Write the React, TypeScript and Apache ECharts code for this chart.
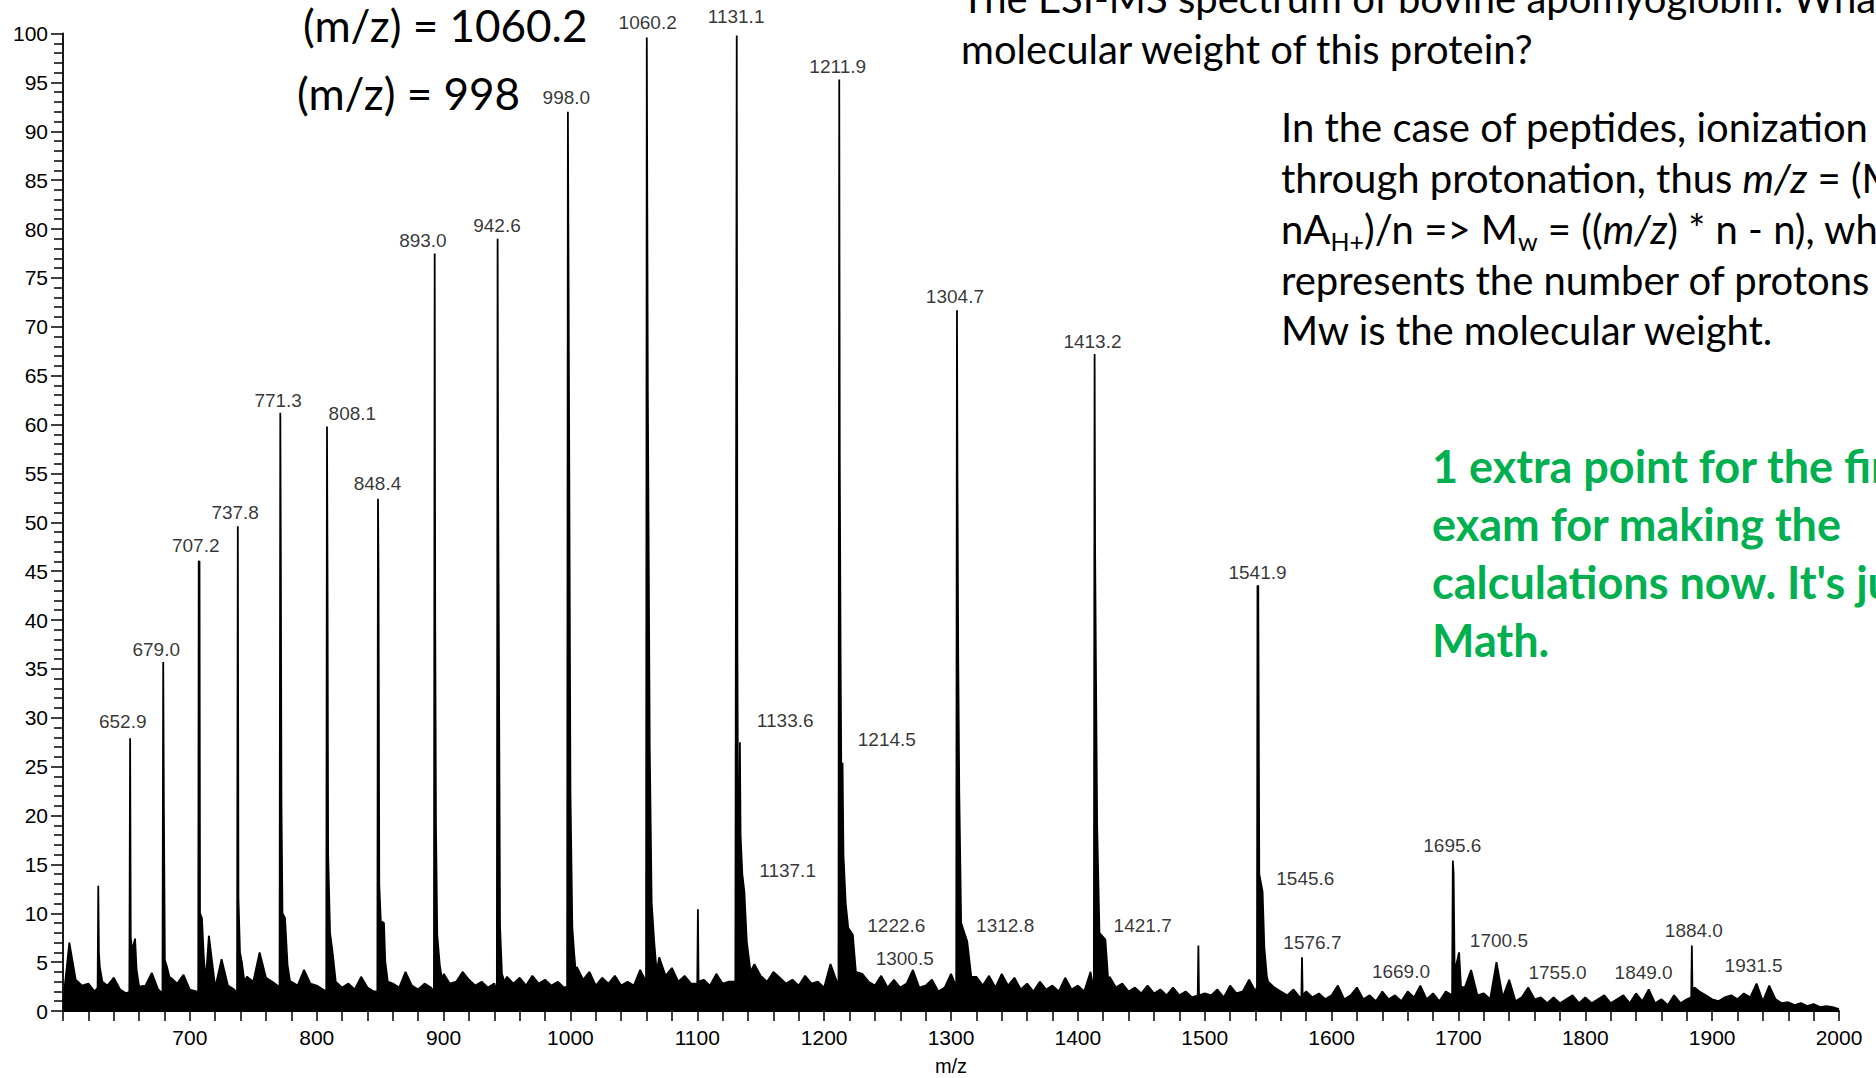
import React, { useEffect, useRef } from "react";
import * as echarts from "echarts";

// ---------- axis settings ----------
const X_MIN = 600;
const X_MAX = 2000;
const X_INTERVAL = 100;
const Y_MIN = 0;
const Y_MAX = 100;
const Y_INTERVAL = 5;

// ---------- baseline noise, read every 5 m/z from 600 ----------
const NOISE_START = 600;
const NOISE_STEP = 5;
const noise0600 = [0.8, 7.0, 3.2, 2.6, 2.8, 2.0, 3.0, 2.6, 3.4, 2.2, 1.8, 3.5, 2.4, 2.6, 3.9, 2.2, 2.0, 3.4, 2.8, 3.7];
const noise0700 = [2.2, 2.0, 2.4, 7.7, 2.4, 5.3, 2.6, 2.2, 2.4, 3.5, 3.0, 6.0, 3.4, 3.0, 2.5, 2.8, 3.0, 2.6, 4.2, 2.8];
const noise0800 = [2.6, 2.2, 2.4, 3.2, 2.4, 2.8, 2.2, 3.5, 2.4, 2.0, 2.4, 4.0, 2.8, 2.4, 4.0, 2.6, 2.2, 2.8, 2.4, 3.0];
const noise0900 = [3.8, 2.8, 3.0, 4.0, 3.2, 2.6, 3.0, 2.4, 2.8, 2.6, 3.5, 2.8, 3.4, 2.6, 3.6, 2.8, 3.2, 2.6, 3.0, 2.4];
const noise1000 = [3.0, 4.5, 3.2, 4.0, 2.6, 3.4, 2.8, 3.6, 2.6, 3.0, 2.6, 4.2, 3.0, 3.6, 5.5, 3.6, 4.4, 3.0, 3.6, 2.8];
const noise1100 = [3.0, 3.2, 2.6, 3.8, 2.8, 3.0, 3.0, 3.0, 3.0, 4.8, 3.6, 3.0, 4.0, 3.4, 2.8, 3.2, 2.6, 3.6, 2.8, 3.0];
const noise1200 = [2.4, 4.8, 3.0, 3.0, 3.0, 5.0, 3.8, 3.0, 2.6, 3.6, 2.4, 3.2, 2.4, 2.8, 4.2, 2.4, 2.6, 3.2, 2.0, 2.4];
const noise1300 = [3.8, 3.0, 3.0, 3.0, 3.5, 2.6, 3.6, 2.4, 3.8, 2.6, 3.4, 2.2, 2.8, 2.0, 3.0, 2.2, 2.6, 2.0, 3.4, 2.2];
const noise1400 = [2.6, 2.0, 4.0, 2.0, 2.0, 3.5, 2.4, 2.8, 2.0, 2.4, 1.8, 2.6, 1.8, 2.2, 1.6, 2.4, 1.6, 2.0, 1.4, 1.6];
const noise1500 = [1.8, 1.6, 2.2, 1.4, 2.6, 1.8, 2.0, 3.2, 2.0, 2.0, 3.0, 2.4, 2.0, 1.6, 2.2, 1.4, 2.0, 1.4, 1.8, 1.2];
const noise1600 = [1.6, 2.6, 1.2, 1.6, 2.4, 1.2, 1.6, 1.0, 2.0, 1.2, 1.6, 1.0, 2.0, 1.4, 2.6, 1.2, 1.8, 1.0, 2.0, 1.4];
const noise1700 = [1.6, 2.4, 4.2, 1.6, 1.8, 1.2, 5.0, 1.4, 3.2, 1.0, 1.4, 2.4, 1.2, 1.4, 0.8, 1.4, 0.8, 1.2, 1.6, 0.8];
const noise1800 = [1.4, 0.8, 1.2, 1.6, 0.8, 1.2, 1.6, 0.8, 1.8, 1.0, 2.2, 0.8, 1.2, 0.6, 1.6, 0.8, 1.2, 1.4, 2.0, 1.6];
const noise1900 = [1.2, 1.0, 1.4, 1.6, 1.2, 1.8, 1.4, 2.8, 1.0, 2.6, 1.2, 0.8, 0.9, 0.6, 0.8, 0.5, 0.7, 0.4, 0.5, 0.4, 0.2];
const noiseBlocks = [noise0600, noise0700, noise0800, noise0900, noise1000, noise1100, noise1200,
  noise1300, noise1400, noise1500, noise1600, noise1700, noise1800, noise1900];

// ---------- peak profiles [m/z, relative intensity] ----------
const peakProfiles: number[][][] = [
  [[627.3, 2.4], [627.8, 12.8], [628.3, 6.0], [629, 4.5], [631, 3.0]],
  [[652.3, 2.0], [652.9, 27.9], [653.4, 7.5], [654.5, 6.2], [656.8, 7.4], [658, 4.2], [660, 2.5]],
  [[678.4, 1.8], [679.0, 35.7], [679.5, 21.0], [680.3, 5.2], [682, 4.5], [684, 3.4]],
  [[706.6, 2.0], [707.0, 46.0], [707.6, 46.0], [708.0, 10.0], [709.5, 9.5], [711, 5.5], [712.5, 3.0]],
  [[737.2, 1.8], [737.8, 49.6], [738.3, 11.5], [739.5, 6.0], [741, 5.0], [743, 3.0]],
  [[770.7, 2.0], [771.3, 61.2], [771.7, 46.7], [772.2, 21.3], [773, 10.0], [775, 9.5], [777, 4.7], [779, 3.0]],
  [[807.5, 2.0], [808.1, 59.8], [808.5, 45.0], [809, 16.0], [810.5, 8.0], [812.5, 6.0], [815, 3.0]],
  [[847.8, 2.0], [848.3, 52.4], [848.7, 44.9], [849.3, 13.0], [850.5, 9.2], [853, 9.0], [854, 5.1], [856, 3.0]],
  [[892.4, 2.0], [893.0, 77.5], [893.4, 39.8], [894, 19.0], [895, 7.8], [897, 4.7], [899, 3.0]],
  [[942.0, 2.0], [942.6, 79.0], [943.0, 54.0], [943.5, 40.0], [944.5, 8.7], [946, 3.8], [948, 3.0]],
  [[997.4, 2.5], [998.0, 92.0], [998.4, 79.0], [998.8, 65.4], [1000, 22.4], [1001.5, 8.5], [1003, 5.8], [1004.5, 3.5]],
  [[1059.6, 3.0], [1060.2, 99.6], [1060.6, 81.4], [1061, 63.4], [1062.5, 27.0], [1064, 11.2], [1066, 7.1], [1068, 4.0]],
  [[1100.0, 2.8], [1100.5, 10.4], [1101, 3.0]],
  [[1130.5, 3.0], [1131.1, 99.8], [1131.6, 38.0], [1132.2, 16.0], [1133.2, 18.0], [1133.6, 27.5], [1134.1, 18.0],
    [1135.5, 14.0], [1137.1, 12.2], [1139, 7.1], [1142, 4.0]],
  [[1211.3, 3.0], [1211.9, 95.3], [1212.3, 56.6], [1213, 35.6], [1213.8, 18.0], [1214.5, 25.4], [1215.2, 16.0],
    [1217, 11.0], [1219, 8.5], [1222.6, 7.8], [1225, 4.0]],
  [[1304.1, 2.5], [1304.7, 71.7], [1305.1, 54.0], [1305.7, 36.0], [1306.5, 22.4], [1308, 9.0], [1312.8, 7.1], [1316, 3.5]],
  [[1412.6, 2.0], [1413.2, 67.2], [1413.6, 47.0], [1414.2, 36.0], [1415.2, 19.0], [1417, 8.0], [1421.7, 7.3], [1424, 3.0]],
  [[1494.5, 1.6], [1495.0, 6.7], [1495.5, 1.6]],
  [[1541.2, 2.5], [1541.6, 43.5], [1542.2, 43.5], [1543, 14.0], [1545.6, 12.2], [1547, 6.5], [1549, 3.5]],
  [[1576.2, 1.4], [1576.7, 5.5], [1577.2, 1.6]],
  [[1695.0, 1.6], [1695.6, 15.4], [1696.2, 14.0], [1697, 4.0], [1700.5, 6.0], [1702, 2.5]],
  [[1883.5, 1.4], [1884.0, 6.7], [1884.5, 2.0], [1886, 2.4]],
];

// ---------- peak annotations (text, m/z of label centre, intensity of label centre) ----------
const labelTexts = ["652.9", "679.0", "707.2", "737.8", "771.3", "808.1", "848.4", "893.0", "942.6", "998.0",
  "1060.2", "1131.1", "1211.9", "1133.6", "1137.1", "1214.5", "1222.6", "1300.5", "1304.7", "1312.8",
  "1413.2", "1421.7", "1541.9", "1545.6", "1576.7", "1669.0", "1695.6", "1700.5", "1755.0", "1849.0",
  "1884.0", "1931.5"];
const labelMz = [647.1, 673.5, 704.6, 735.7, 769.6, 828.1, 847.9, 883.7, 942.1, 996.8,
  1060.9, 1130.6, 1210.7, 1169.3, 1171.2, 1249.4, 1256.9, 1263.5, 1303.1, 1342.7,
  1411.5, 1451.1, 1541.6, 1579.3, 1584.9, 1654.7, 1695.2, 1731.9, 1778.1, 1846.0,
  1885.6, 1932.7];
const labelY = [29.6, 37.0, 47.6, 51.0, 62.5, 61.1, 54.0, 78.8, 80.4, 93.5,
  101.1, 101.7, 96.6, 29.7, 14.4, 27.8, 8.7, 5.4, 73.1, 8.7,
  68.5, 8.7, 44.9, 13.6, 7.0, 4.0, 16.9, 7.2, 3.9, 3.9,
  8.2, 4.7];

// ---------- slide texts ----------
const eqLines = ["(m/z) = 1060.2", "(m/z) = 998"];
const questionLines = ["The ESI-MS spectrum of bovine apomyoglobin. What is the", "molecular weight of this protein?"];
const explanationLines = [
  "{n|In the case of peptides, ionization occurs}",
  "{n|through protonation, thus }{i|m/z}{n| = (M}{s|w}{n| + nA}{s|H+}",
  "{n|nA}{s|H+}{n|)/n => M}{s|w}{n| = ((}{i|m/z}{n|) * n - n), where n}",
  "{n|represents the number of protons and}",
  "{n|Mw is the molecular weight.}",
];
const bonusLines = ["1 extra point for the final", "exam for making the", "calculations now. It's just", "Math."];

function buildSpectrum(): number[][] {
  const ranges = peakProfiles.map((p) => [p[0][0], p[p.length - 1][0]]);
  const pts: number[][] = [];
  let i = 0;
  noiseBlocks.forEach((block) =>
    block.forEach((v) => {
      const mz = NOISE_START + NOISE_STEP * i;
      i += 1;
      if (!ranges.some((r) => mz >= r[0] && mz <= r[1])) pts.push([mz, v]);
    })
  );
  peakProfiles.forEach((p) => p.forEach((q) => pts.push([q[0], q[1]])));
  pts.sort((a, b) => a[0] - b[0]);
  return pts;
}

const AXIS_FONT = "'Liberation Sans', Arial, sans-serif";
const SLIDE_FONT = "Lato, 'Noto Sans', sans-serif";
const BODY_SIZE = 40;
const W = 1876;
const H = 1078;

function richTok(size: number, extra: any = {}) {
  return { fontFamily: SLIDE_FONT, fontSize: size, fill: "#000", lineHeight: 48, ...extra };
}

export default function App() {
  const ref = useRef<HTMLDivElement>(null);

  useEffect(() => {
    if (!ref.current) return;
    const chart = echarts.init(ref.current, null, { renderer: "svg", width: W, height: H });
    const spectrum = buildSpectrum();
    const labels = labelTexts.map((t, k) => ({ name: t, value: [labelMz[k], labelY[k]] }));

    const graphic: any[] = [];
    const eqX = [303, 297];
    const eqY = [25, 93];
    eqLines.forEach((t, k) =>
      graphic.push({
        type: "text", x: eqX[k], y: eqY[k], silent: true,
        style: { text: t, fontFamily: SLIDE_FONT, fontSize: 44, fill: "#000",
          align: "left", verticalAlign: "middle", textAlign: "left", textVerticalAlign: "middle" },
      })
    );
    const qY = [-2, 49];
    questionLines.forEach((t, k) =>
      graphic.push({
        type: "text", x: 961, y: qY[k], silent: true,
        style: { text: t, fontFamily: SLIDE_FONT, fontSize: BODY_SIZE, fill: "#000",
          align: "left", verticalAlign: "middle", textAlign: "left", textVerticalAlign: "middle" },
      })
    );
    const exY = [127, 178, 229, 280, 330];
    explanationLines.forEach((t, k) =>
      graphic.push({
        type: "text", x: 1281, y: exY[k], silent: true,
        style: {
          text: t, fontFamily: SLIDE_FONT, fontSize: BODY_SIZE, fill: "#000", lineHeight: 48,
          align: "left", verticalAlign: "middle", textAlign: "left", textVerticalAlign: "middle",
          rich: {
            n: richTok(BODY_SIZE),
            i: richTok(BODY_SIZE, { fontStyle: "italic" }),
            s: richTok(25, { lineHeight: 25, verticalAlign: "bottom" }),
          },
        },
      })
    );
    const bY = [466, 524, 582, 640];
    bonusLines.forEach((t, k) =>
      graphic.push({
        type: "text", x: 1432, y: bY[k], silent: true,
        style: { text: t, fontFamily: SLIDE_FONT, fontSize: 45, fontWeight: "bold", fill: "#00B050",
          align: "left", verticalAlign: "middle", textAlign: "left", textVerticalAlign: "middle" },
      })
    );

    const tickStyle = { color: "#000", width: 1.5 };
    chart.setOption({
      animation: false,
      backgroundColor: "#fff",
      grid: { left: 63, right: 37, top: 33.5, bottom: 67, containLabel: false, outerBoundsMode: "none" },
      xAxis: {
        type: "value", min: X_MIN, max: X_MAX, interval: X_INTERVAL,
        axisLine: { show: true, lineStyle: { color: "#000", width: 1.8 } },
        axisTick: { show: true, length: 10, lineStyle: tickStyle },
        minorTick: { show: true, splitNumber: 5, length: 10, lineStyle: tickStyle },
        splitLine: { show: false },
        minorSplitLine: { show: false },
        axisLabel: {
          formatter: (v: number) => (v === X_MIN ? "" : String(v)),
          fontFamily: AXIS_FONT, fontSize: 21, color: "#000", margin: 16, showMaxLabel: true,
        },
        name: "m/z", nameLocation: "middle", nameGap: 45,
        nameTextStyle: { fontFamily: AXIS_FONT, fontSize: 20, color: "#000" },
      },
      yAxis: {
        type: "value", min: Y_MIN, max: Y_MAX, interval: Y_INTERVAL,
        axisLine: { show: true, lineStyle: { color: "#000", width: 1.8 } },
        axisTick: { show: true, length: 12, lineStyle: tickStyle },
        minorTick: { show: true, splitNumber: 5, length: 9, lineStyle: tickStyle },
        splitLine: { show: false },
        minorSplitLine: { show: false },
        axisLabel: { fontFamily: AXIS_FONT, fontSize: 21, color: "#000", margin: 15 },
      },
      series: [
        {
          type: "line", data: spectrum, symbol: "none", showSymbol: false, silent: true,
          lineStyle: { color: "#000", width: 1.8 },
          areaStyle: { color: "#000", opacity: 1 },
          z: 2,
        },
        {
          type: "scatter", data: labels, symbolSize: 1, clip: false, silent: true,
          itemStyle: { color: "rgba(0,0,0,0)" },
          label: {
            show: true, position: "inside", formatter: (p: any) => p.name,
            fontFamily: AXIS_FONT, fontSize: 19, color: "#000",
          },
          z: 3,
        },
      ],
      graphic,
    });
    return () => chart.dispose();
  }, []);

  return (
    <div
      ref={ref}
      style={{ position: "fixed", left: 0, top: 0, width: W, height: H, background: "#fff", overflow: "hidden" }}
    />
  );
}
